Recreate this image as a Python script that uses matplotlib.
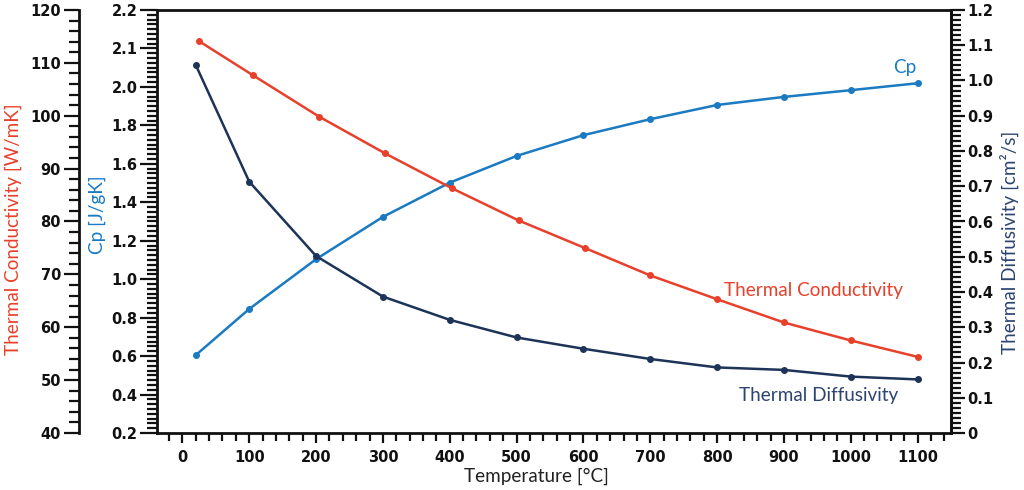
import matplotlib
matplotlib.use("Agg")
import matplotlib.pyplot as plt
from matplotlib.ticker import FixedLocator, MultipleLocator, AutoMinorLocator

# ---------------- data ----------------
temp_cp = [20, 100, 200, 300, 400, 500, 600, 700, 800, 900, 1000, 1100]
cp = [0.605, 0.845, 1.104, 1.324, 1.502, 1.641, 1.749, 1.832, 1.906, 1.948, 1.983, 2.019]

temp_tc = [25, 105, 205, 303, 403, 503, 602, 700, 800, 900, 1000, 1100]
tc = [114.1, 107.7, 99.8, 92.9, 86.3, 80.2, 75.0, 69.8, 65.3, 60.9, 57.5, 54.4]

temp_td = [20, 100, 200, 300, 400, 500, 600, 700, 800, 900, 1000, 1100]
td = [1.044, 0.713, 0.502, 0.387, 0.321, 0.271, 0.239, 0.210, 0.186, 0.179, 0.160, 0.152]

x_ticks = [0, 100, 200, 300, 400, 500, 600, 700, 800, 900, 1000, 1100]
cp_ticks = [0.2, 0.4, 0.6, 0.8, 1.0, 1.2, 1.4, 1.6, 1.8, 2.0, 2.2, 2.4]
cp_tick_labels = ["0.2", "0.4", "0.6", "0.8", "1.0", "1.2", "1.4", "1.6", "1.8", "2.0", "2.1", "2.2"]
tc_ticks = [40, 50, 60, 70, 80, 90, 100, 110, 120]
td_ticks = [0, 0.1, 0.2, 0.3, 0.4, 0.5, 0.6, 0.7, 0.8, 0.9, 1.0, 1.1, 1.2]
td_tick_labels = ["0", "0.1", "0.2", "0.3", "0.4", "0.5", "0.6", "0.7", "0.8", "0.9", "1.0", "1.1", "1.2"]

# ---------------- style ----------------
RED = "#e8402a"
BLUE = "#1a7ac2"
NAVY = "#1d3358"
NAVY_TXT = "#2c4470"
INK = "#111111"
TICKFONT = dict(family=["DejaVu Sans"], weight="bold", size=10.5)
LABELFONT = ["Lato", "DejaVu Sans"]
LSIZE = 13.6

fig = plt.figure(figsize=(10.24, 4.9), dpi=100)
W, H = 1024, 490
ax = fig.add_axes([157 / W, 57 / H, 794 / W, 423 / H])
ax_tc = ax.twinx()
ax_td = ax.twinx()

lw = 1.8
ms = 4
ax.plot(temp_cp, cp, color=BLUE, lw=lw, marker="o", ms=ms, zorder=3)
ax_tc.plot(temp_tc, tc, color=RED, lw=lw, marker="o", ms=ms, zorder=3)
ax_td.plot(temp_td, td, color=NAVY, lw=lw, marker="o", ms=ms, zorder=3)

ax.set_xlim(-38, 1150)
ax.set_ylim(0.2, 2.4)
ax_tc.set_ylim(40, 120)
ax_td.set_ylim(0, 1.2)

spine_w = 2.0
for s in ax.spines.values():
    s.set_linewidth(spine_w)
    s.set_color(INK)

# x axis
ax.set_xticks(x_ticks)
ax.set_xticklabels([str(v) for v in x_ticks], fontdict=TICKFONT, color=INK)
ax.xaxis.set_minor_locator(MultipleLocator(20))
ax.tick_params(axis="x", which="major", length=7, width=1.6, color=INK, pad=5)
ax.tick_params(axis="x", which="minor", length=6, width=1.6, color=INK)

# Cp axis (left, on the plot edge)
ax.set_yticks(cp_ticks)
ax.set_yticklabels(cp_tick_labels, fontdict=TICKFONT, color=INK)
ax.yaxis.set_minor_locator(AutoMinorLocator(8))
ax.tick_params(axis="y", which="major", length=12, width=1.6, color=INK, pad=2)
ax.tick_params(axis="y", which="minor", length=7, width=1.6, color=INK)

# TC axis (outer left)
ax_tc.yaxis.tick_left()
ax_tc.spines["left"].set_position(("axes", (79 - 157) / 794))
ax_tc.spines["left"].set_linewidth(spine_w)
ax_tc.spines["left"].set_color(INK)
for k in ("right", "top", "bottom"):
    ax_tc.spines[k].set_visible(False)
ax_tc.set_yticks(tc_ticks)
ax_tc.set_yticklabels([str(v) for v in tc_ticks], fontdict=TICKFONT, color=INK)
ax_tc.yaxis.set_minor_locator(MultipleLocator(2))
ax_tc.tick_params(axis="y", which="major", length=11, width=1.6, color=INK, pad=2)
ax_tc.tick_params(axis="y", which="minor", length=7, width=1.6, color=INK)

# TD axis (right)
for k in ("left", "top", "bottom"):
    ax_td.spines[k].set_visible(False)
ax_td.spines["right"].set_linewidth(spine_w)
ax_td.spines["right"].set_color(INK)
ax_td.set_yticks(td_ticks)
ax_td.set_yticklabels(td_tick_labels, fontdict=TICKFONT, color=INK)
ax_td.yaxis.set_minor_locator(AutoMinorLocator(7))
ax_td.tick_params(axis="y", which="major", length=10, width=1.6, color=INK, pad=2)
ax_td.tick_params(axis="y", which="minor", length=7, width=1.6, color=INK)

# axis titles
fig.text(536 / W, 1 - 476 / H, "Temperature [°C]", ha="center", va="center",
         fontsize=LSIZE, color="#222222", family=LABELFONT)
fig.text(13 / W, 1 - 229 / H, "Thermal Conductivity [W/mK]", rotation=90,
         ha="center", va="center", fontsize=LSIZE, color=RED, family=LABELFONT)
fig.text(97 / W, 1 - 215 / H, "Cp [J/gK]", rotation=90,
         ha="center", va="center", fontsize=LSIZE, color=BLUE, family=LABELFONT)
fig.text(1009 / W, 1 - 242 / H, "Thermal Diffusivity [cm²/s]", rotation=90,
         ha="center", va="center", fontsize=LSIZE, color=NAVY_TXT, family=LABELFONT)

# in-plot series labels
ax_td.text(0.957, 0.865, "Cp", transform=ax.transAxes, ha="right", va="center",
           fontsize=LSIZE, color=BLUE, family=LABELFONT)
ax_td.text(0.9396, 0.338, "Thermal Conductivity", transform=ax.transAxes, ha="right",
           va="center", fontsize=LSIZE, color=RED, family=LABELFONT)
ax_td.text(0.933, 0.0898, "Thermal Diffusivity", transform=ax.transAxes, ha="right",
           va="center", fontsize=LSIZE, color=NAVY_TXT, family=LABELFONT)

fig.savefig("out.png", dpi=100)
